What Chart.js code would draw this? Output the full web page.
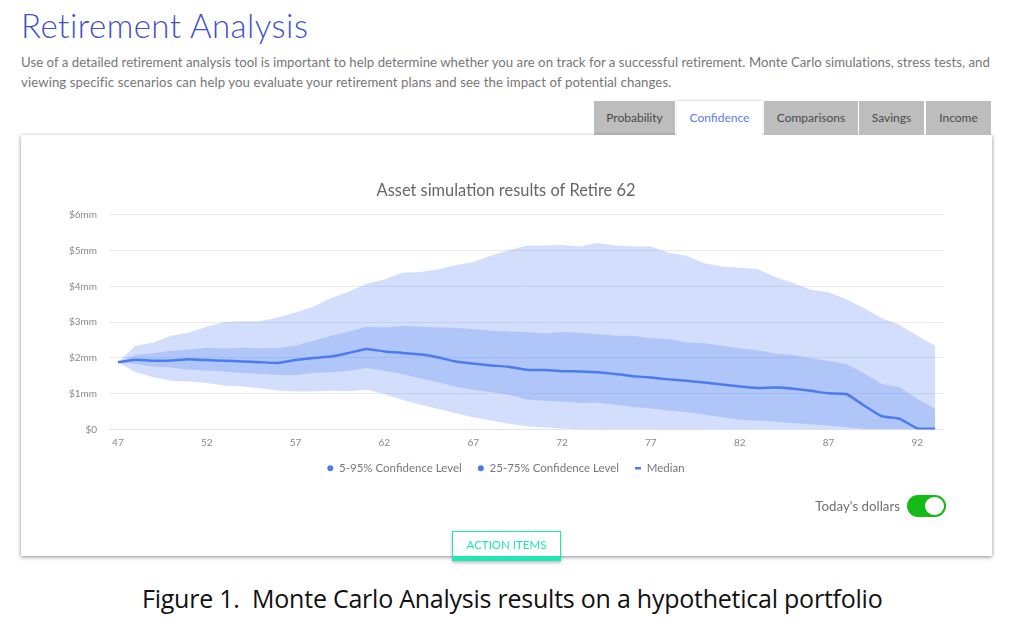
<!DOCTYPE html>
<html><head><meta charset="utf-8">
<script src="https://cdn.jsdelivr.net/npm/chart.js@4/dist/chart.umd.min.js"></script>
<style>
html,body{margin:0;padding:0;background:#fff;width:1024px;height:632px;overflow:hidden;font-family:Lato,"Noto Sans",sans-serif;}
.abs{position:absolute;white-space:nowrap;}
#h{left:21px;top:4px;font-size:33px;font-weight:300;color:#3f51c8;letter-spacing:.48px;line-height:42px;}
.p{left:21px;font-size:13.2px;color:#767676;line-height:18px;}
.tab{top:101px;height:34px;line-height:34px;text-align:center;background:#bdbdbd;color:#4a4a4a;font-size:12px;}
#card{left:21px;top:135px;width:971px;height:421px;background:#fff;box-shadow:0 1px 4px rgba(0,0,0,.45);}
#wrap{left:21px;top:136px;width:970px;height:420px;}
#td{right:124px;top:497px;font-size:13.3px;color:#707070;line-height:18px;}
#sw{left:907px;top:495px;width:39px;height:22px;border-radius:11px;background:#14bb14;}
#kn{left:925px;top:497px;width:19px;height:18px;border-radius:10px;background:#fff;}
#btn{left:452px;top:531px;width:107px;height:24px;border:1.5px solid #20e8b5;border-bottom:5px solid #20e8b5;background:#fff;color:#20e8b5;font-size:11.5px;font-weight:400;text-align:center;line-height:25px;box-shadow:0 2px 3px rgba(0,0,0,.25);}
#cap{left:142px;top:582px;font-size:25px;color:#111;font-family:"Open Sans";letter-spacing:-.24px;line-height:32px;white-space:pre;}
</style></head><body>
<div class="abs" id="h">Retirement Analysis</div>
<div class="abs p" style="top:53px;letter-spacing:.03px">Use of a detailed retirement analysis tool is important to help determine whether you are on track for a successful retirement. Monte Carlo simulations, stress tests, and</div>
<div class="abs p" style="top:73px;letter-spacing:.1px">viewing specific scenarios can help you evaluate your retirement plans and see the impact of potential changes.</div>
<div class="abs tab" style="left:594px;width:81px">Probability</div>
<div class="abs" id="card"></div>
<div class="abs tab" style="left:677px;width:85px;background:#fff;color:#5b7cf5;box-shadow:0 -1px 2px rgba(0,0,0,.15);height:35px">Confidence</div>
<div class="abs tab" style="left:764px;width:94px">Comparisons</div>
<div class="abs tab" style="left:859px;width:65px">Savings</div>
<div class="abs tab" style="left:926px;width:65px">Income</div>
<div class="abs" id="wrap"><canvas id="c"></canvas></div>
<div class="abs" id="td">Today's dollars</div>
<div class="abs" id="sw"></div><div class="abs" id="kn"></div>
<div class="abs" id="btn">ACTION ITEMS</div>
<div class="abs" id="cap">Figure 1.  Monte Carlo Analysis results on a hypothetical portfolio</div>
<script>
const ages=[47,48,49,50,51,52,53,54,55,56,57,58,59,60,61,62,63,64,65,66,67,68,69,70,71,72,73,74,75,76,77,78,79,80,81,82,83,84,85,86,87,88,89,90,91,92,93];
const p95=[1.88,2.34,2.43,2.62,2.71,2.87,3.0,3.02,3.02,3.13,3.27,3.43,3.67,3.85,4.07,4.19,4.38,4.40,4.47,4.59,4.68,4.85,5.01,5.13,5.14,5.15,5.11,5.21,5.14,5.11,5.11,4.94,4.85,4.64,4.55,4.52,4.48,4.26,4.09,3.90,3.83,3.64,3.39,3.11,2.92,2.62,2.34];
const p75=[1.88,2.08,2.13,2.2,2.23,2.28,2.26,2.28,2.27,2.27,2.34,2.48,2.62,2.74,2.87,2.85,2.89,2.87,2.85,2.84,2.80,2.76,2.74,2.72,2.68,2.72,2.70,2.67,2.62,2.62,2.55,2.53,2.43,2.41,2.34,2.27,2.21,2.12,2.08,1.99,1.91,1.83,1.57,1.27,1.18,0.85,0.58];
const median=[1.88,1.95,1.92,1.93,1.96,1.94,1.92,1.90,1.88,1.86,1.94,2.0,2.04,2.14,2.25,2.18,2.14,2.10,2.02,1.90,1.84,1.79,1.75,1.67,1.66,1.63,1.62,1.60,1.55,1.49,1.45,1.40,1.36,1.31,1.26,1.20,1.16,1.17,1.14,1.08,1.01,0.99,0.67,0.37,0.30,0.03,0.02];
const p25=[1.88,1.83,1.76,1.73,1.67,1.65,1.62,1.58,1.56,1.52,1.52,1.58,1.60,1.64,1.72,1.64,1.55,1.43,1.32,1.20,1.10,1.05,0.97,0.84,0.80,0.78,0.74,0.75,0.69,0.63,0.59,0.53,0.48,0.42,0.34,0.27,0.25,0.22,0.18,0.15,0.11,0.065,0.02,0,0,0,0];
const p5=[1.88,1.60,1.46,1.36,1.34,1.30,1.23,1.20,1.15,1.09,1.06,1.06,1.08,1.07,1.11,0.99,0.83,0.70,0.58,0.455,0.34,0.25,0.16,0.09,0.055,0.03,0.01,0,0,0,0,0,0,0,0,0,0,0,0,0,0,0,0,0,0,0,0];
const legendNames=["5-95% Confidence Level","25-75% Confidence Level","Median"];
const chartTitle="Asset simulation results of Retire 62";
const blue="#4a7cf0", band="rgba(74,124,240,.25)", none="rgba(0,0,0,0)";
const tickFont={family:"Lato",size:10};
new Chart(document.getElementById("c"),{
 type:"line",
 data:{labels:ages,datasets:[
  {label:"Median",data:median,borderColor:blue,borderWidth:2.5,fill:false,pointRadius:0,tension:.15},
  {label:"p75",data:p75,borderWidth:0,borderColor:none,backgroundColor:band,fill:"+1",pointRadius:0},
  {label:"p25",data:p25,borderWidth:0,borderColor:none,fill:false,pointRadius:0},
  {label:"p95",data:p95,borderWidth:0,borderColor:none,backgroundColor:band,fill:"+1",pointRadius:0},
  {label:"p5",data:p5,borderWidth:0,borderColor:none,fill:false,pointRadius:0}
 ]},
 options:{
  responsive:true,maintainAspectRatio:false,animation:false,
  layout:{padding:{left:0,right:0,top:0,bottom:72}},
  plugins:{
   title:{display:true,text:chartTitle,color:"#666",font:{family:"Lato",size:16.4,weight:"normal"},padding:{top:45,bottom:14}},
   tooltip:{enabled:false},
   legend:{position:"bottom",labels:{
     usePointStyle:true,boxWidth:6,boxHeight:4.2,padding:16,color:"#777",font:{family:"Lato",size:11.5},
     generateLabels(){return legendNames.map((t,i)=>({text:t,fillStyle:blue,strokeStyle:blue,lineWidth:i==2?2.5:0,pointStyle:i==2?"line":"circle",fontColor:"#777",datasetIndex:i}));}
   }}
  },
  scales:{
   x:{offset:true,grid:{display:false},border:{display:false},afterFit(s){s.height=17;},
      ticks:{autoSkip:false,maxRotation:0,padding:-1,color:"#888",font:tickFont,callback(v,i){return (i%5==0)?ages[i]:"";}}},
   y:{min:0,max:6,afterFit(s){s.width=88;},border:{display:false},
      grid:{drawTicks:false,lineWidth:1,color:c=>c.tick.value==0?"#dfe4f6":"#ebebef"},
      ticks:{stepSize:1,padding:12,color:"#888",font:tickFont,callback:v=>"$"+v+(v==0?"":"mm")}},
   spacer:{position:"right",afterFit(s){s.width=47;},grid:{display:false},border:{display:false},ticks:{display:false}}
  }
 }
});
</script>
</body></html>
